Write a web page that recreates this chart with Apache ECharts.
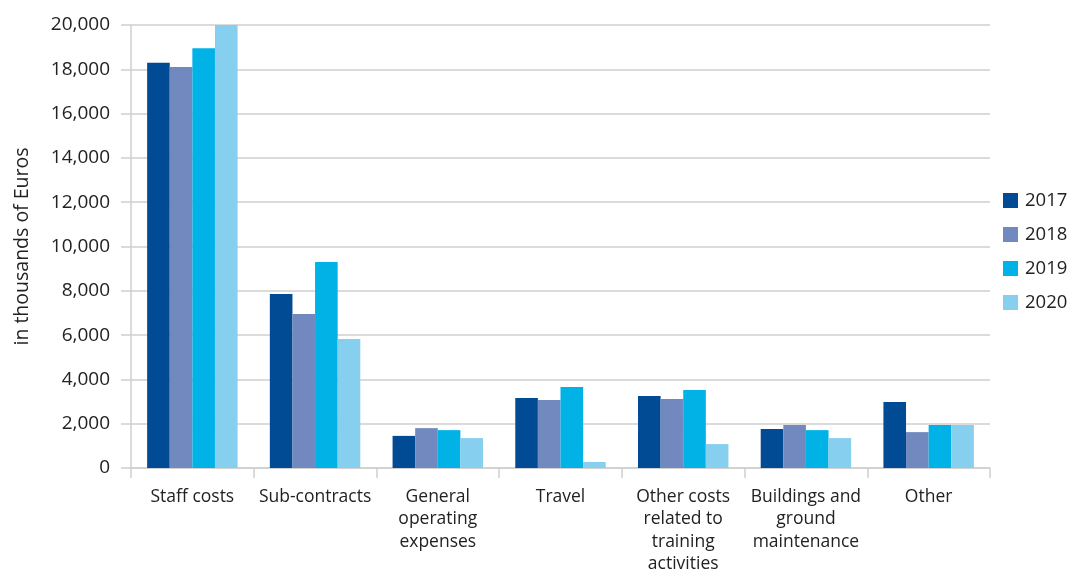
<!DOCTYPE html>
<html><head><meta charset="utf-8">
<script src="https://cdn.jsdelivr.net/npm/echarts@6/dist/echarts.min.js"></script>
<style>html,body{margin:0;padding:0;background:#fff}#c{width:1072px;height:569px}</style>
</head><body><div id="c"></div>
<script>
const categories = ["Staff costs", "Sub-contracts", "General\noperating\nexpenses", "Travel", "Other costs\nrelated to\ntraining\nactivities", "Buildings and\nground\nmaintenance", "Other"];
const years = ["2017", "2018", "2019", "2020"];
const v2017 = [18300, 7850, 1450, 3160, 3250, 1760, 2980];
const v2018 = [18100, 6950, 1800, 3070, 3110, 1940, 1620];
const v2019 = [18950, 9300, 1710, 3660, 3520, 1710, 1940];
const v2020 = [20000, 5820, 1350, 270, 1080, 1350, 1940];
const yTicks = {min: 0, max: 20000, interval: 2000};
const colors = ["#004b93", "#7289bf", "#00b2e5", "#87cfef"];
const values = [v2017, v2018, v2019, v2020];
const font = "Open Sans";
const chart = echarts.init(document.getElementById('c'), null, {renderer: 'canvas'});
chart.setOption({
  animation: false,
  textStyle: {fontFamily: font},
  grid: {left: 131, right: 82, top: 25, bottom: 101, containLabel: false, outerBoundsMode: 'none'},
  legend: {
    orient: 'vertical', left: 998, top: 186,
    itemWidth: 15, itemHeight: 15, itemGap: 15,
    icon: 'rect',
    textStyle: {fontFamily: font, fontSize: 18.5, color: '#222', padding: [0, 0, 0, 2]},
    data: years
  },
  xAxis: {
    type: 'category', data: categories,
    axisLine: {lineStyle: {color: '#cfcfcf', width: 1.5}},
    axisTick: {show: true, length: 10, lineStyle: {color: '#cfcfcf', width: 1.5}},
    axisLabel: {fontFamily: font, fontSize: 17.5, color: '#222', lineHeight: 22.3, margin: 18, interval: 0}
  },
  yAxis: {
    type: 'value', min: yTicks.min, max: yTicks.max, interval: yTicks.interval,
    name: 'in thousands of Euros', nameLocation: 'middle', nameGap: 99, nameRotate: 90,
    nameTextStyle: {fontFamily: font, fontSize: 19.5, color: '#222'},
    axisLine: {show: true, lineStyle: {color: '#cfcfcf', width: 1.5}},
    axisTick: {show: true, length: 10, lineStyle: {color: '#cfcfcf', width: 1.5}},
    axisLabel: {fontFamily: font, fontSize: 19, color: '#222', margin: 21,
      formatter: v => v.toLocaleString('en-US')},
    splitLine: {lineStyle: {color: '#cfcfcf', width: 1.5}}
  },
  series: years.map((y, i) => ({
    name: y, type: 'bar', data: values[i],
    itemStyle: {color: colors[i]},
    barGap: '0%', barCategoryGap: '26.3%'
  }))
});
</script></body></html>
